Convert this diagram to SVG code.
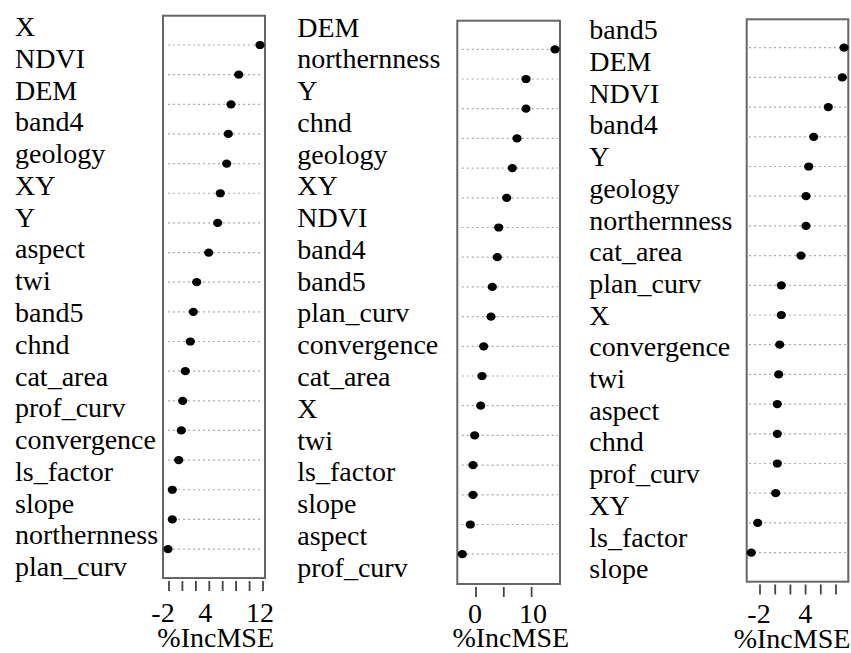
<svg xmlns="http://www.w3.org/2000/svg" width="851" height="653" viewBox="0 0 851 653">
<style>
text{font-family:"Liberation Serif","Times New Roman",serif;font-size:28px;fill:#000}
.ax{text-anchor:middle}
.box{fill:none;stroke:#666;stroke-width:2}
.grid{stroke:#aaa;stroke-width:1.2;stroke-dasharray:2 3}
.tick{stroke:#444;stroke-width:1.8}
.dot{fill:#000}
</style>
<rect width="851" height="653" fill="#fff"/>
<g id="panel1">
<g id="labels1">
<text x="15" y="36">X</text>
<text x="15" y="67.8">NDVI</text>
<text x="15" y="99.5">DEM</text>
<text x="15" y="131.3">band4</text>
<text x="15" y="163.1">geology</text>
<text x="15" y="194.9">XY</text>
<text x="15" y="226.6">Y</text>
<text x="15" y="258.4">aspect</text>
<text x="15" y="290.2">twi</text>
<text x="15" y="321.9">band5</text>
<text x="15" y="353.7">chnd</text>
<text x="15" y="385.5">cat_area</text>
<text x="15" y="417.2">prof_curv</text>
<text x="15" y="449">convergence</text>
<text x="15" y="480.8">ls_factor</text>
<text x="15" y="512.6">slope</text>
<text x="15" y="544.3">northernness</text>
<text x="15" y="576.1">plan_curv</text>
</g>
<g id="grid1">
<line class="grid" x1="168" x2="263" y1="45" y2="45"/>
<line class="grid" x1="168" x2="263" y1="74.65" y2="74.65"/>
<line class="grid" x1="168" x2="263" y1="104.3" y2="104.3"/>
<line class="grid" x1="168" x2="263" y1="133.95" y2="133.95"/>
<line class="grid" x1="168" x2="263" y1="163.6" y2="163.6"/>
<line class="grid" x1="168" x2="263" y1="193.25" y2="193.25"/>
<line class="grid" x1="168" x2="263" y1="222.9" y2="222.9"/>
<line class="grid" x1="168" x2="263" y1="252.55" y2="252.55"/>
<line class="grid" x1="168" x2="263" y1="282.2" y2="282.2"/>
<line class="grid" x1="168" x2="263" y1="311.85" y2="311.85"/>
<line class="grid" x1="168" x2="263" y1="341.5" y2="341.5"/>
<line class="grid" x1="168" x2="263" y1="371.15" y2="371.15"/>
<line class="grid" x1="168" x2="263" y1="400.8" y2="400.8"/>
<line class="grid" x1="168" x2="263" y1="430.45" y2="430.45"/>
<line class="grid" x1="168" x2="263" y1="460.1" y2="460.1"/>
<line class="grid" x1="168" x2="263" y1="489.75" y2="489.75"/>
<line class="grid" x1="168" x2="263" y1="519.4" y2="519.4"/>
<line class="grid" x1="168" x2="263" y1="549.05" y2="549.05"/>
</g>
<rect class="box" x="163" y="15.7" width="102" height="562.3"/>
<g id="dots1">
<ellipse class="dot" cx="260" cy="45" rx="4.6" ry="4.1"/>
<ellipse class="dot" cx="238.7" cy="74.65" rx="4.6" ry="4.1"/>
<ellipse class="dot" cx="231" cy="104.3" rx="4.6" ry="4.1"/>
<ellipse class="dot" cx="228.3" cy="133.95" rx="4.6" ry="4.1"/>
<ellipse class="dot" cx="226.7" cy="163.6" rx="4.6" ry="4.1"/>
<ellipse class="dot" cx="220.3" cy="193.25" rx="4.6" ry="4.1"/>
<ellipse class="dot" cx="217.7" cy="222.9" rx="4.6" ry="4.1"/>
<ellipse class="dot" cx="208.7" cy="252.55" rx="4.6" ry="4.1"/>
<ellipse class="dot" cx="196.7" cy="282.2" rx="4.6" ry="4.1"/>
<ellipse class="dot" cx="193.3" cy="311.85" rx="4.6" ry="4.1"/>
<ellipse class="dot" cx="190.3" cy="341.5" rx="4.6" ry="4.1"/>
<ellipse class="dot" cx="185.3" cy="371.15" rx="4.6" ry="4.1"/>
<ellipse class="dot" cx="182.7" cy="400.8" rx="4.6" ry="4.1"/>
<ellipse class="dot" cx="181.3" cy="430.45" rx="4.6" ry="4.1"/>
<ellipse class="dot" cx="178.7" cy="460.1" rx="4.6" ry="4.1"/>
<ellipse class="dot" cx="172.3" cy="489.75" rx="4.6" ry="4.1"/>
<ellipse class="dot" cx="172.3" cy="519.4" rx="4.6" ry="4.1"/>
<ellipse class="dot" cx="168" cy="549.05" rx="4.6" ry="4.1"/>
</g>
<g id="axis1">
<line class="tick" x1="169" x2="169" y1="581" y2="591"/>
<line class="tick" x1="182.4" x2="182.4" y1="581" y2="591"/>
<line class="tick" x1="195.9" x2="195.9" y1="581" y2="591"/>
<line class="tick" x1="209.3" x2="209.3" y1="581" y2="591"/>
<line class="tick" x1="222.7" x2="222.7" y1="581" y2="591"/>
<line class="tick" x1="236.1" x2="236.1" y1="581" y2="591"/>
<line class="tick" x1="249.6" x2="249.6" y1="581" y2="591"/>
<line class="tick" x1="263" x2="263" y1="581" y2="591"/>
<text class="ax" x="163" y="621.5">-2</text>
<text class="ax" x="205.3" y="621.5">4</text>
<text class="ax" x="260" y="621.5">12</text>
<text class="ax" x="215.7" y="647">%IncMSE</text>
</g>
</g>
<g id="panel2">
<g id="labels2">
<text x="297.3" y="36.5">DEM</text>
<text x="297.3" y="68.3">northernness</text>
<text x="297.3" y="100">Y</text>
<text x="297.3" y="131.8">chnd</text>
<text x="297.3" y="163.6">geology</text>
<text x="297.3" y="195.4">XY</text>
<text x="297.3" y="227.1">NDVI</text>
<text x="297.3" y="258.9">band4</text>
<text x="297.3" y="290.7">band5</text>
<text x="297.3" y="322.4">plan_curv</text>
<text x="297.3" y="354.2">convergence</text>
<text x="297.3" y="386">cat_area</text>
<text x="297.3" y="417.7">X</text>
<text x="297.3" y="449.5">twi</text>
<text x="297.3" y="481.3">ls_factor</text>
<text x="297.3" y="513.1">slope</text>
<text x="297.3" y="544.8">aspect</text>
<text x="297.3" y="576.6">prof_curv</text>
</g>
<g id="grid2">
<line class="grid" x1="461.7" x2="558" y1="49.3" y2="49.3"/>
<line class="grid" x1="461.7" x2="558" y1="79" y2="79"/>
<line class="grid" x1="461.7" x2="558" y1="108.7" y2="108.7"/>
<line class="grid" x1="461.7" x2="558" y1="138.4" y2="138.4"/>
<line class="grid" x1="461.7" x2="558" y1="168.1" y2="168.1"/>
<line class="grid" x1="461.7" x2="558" y1="197.8" y2="197.8"/>
<line class="grid" x1="461.7" x2="558" y1="227.5" y2="227.5"/>
<line class="grid" x1="461.7" x2="558" y1="257.2" y2="257.2"/>
<line class="grid" x1="461.7" x2="558" y1="286.9" y2="286.9"/>
<line class="grid" x1="461.7" x2="558" y1="316.6" y2="316.6"/>
<line class="grid" x1="461.7" x2="558" y1="346.3" y2="346.3"/>
<line class="grid" x1="461.7" x2="558" y1="376" y2="376"/>
<line class="grid" x1="461.7" x2="558" y1="405.7" y2="405.7"/>
<line class="grid" x1="461.7" x2="558" y1="435.4" y2="435.4"/>
<line class="grid" x1="461.7" x2="558" y1="465.1" y2="465.1"/>
<line class="grid" x1="461.7" x2="558" y1="494.8" y2="494.8"/>
<line class="grid" x1="461.7" x2="558" y1="524.5" y2="524.5"/>
<line class="grid" x1="461.7" x2="558" y1="554.2" y2="554.2"/>
</g>
<rect class="box" x="457.3" y="20.7" width="102.7" height="563.3"/>
<g id="dots2">
<ellipse class="dot" cx="555" cy="49.3" rx="4.6" ry="4.1"/>
<ellipse class="dot" cx="526" cy="79" rx="4.6" ry="4.1"/>
<ellipse class="dot" cx="526" cy="108.7" rx="4.6" ry="4.1"/>
<ellipse class="dot" cx="517" cy="138.4" rx="4.6" ry="4.1"/>
<ellipse class="dot" cx="512.3" cy="168.1" rx="4.6" ry="4.1"/>
<ellipse class="dot" cx="506.7" cy="197.8" rx="4.6" ry="4.1"/>
<ellipse class="dot" cx="498.7" cy="227.5" rx="4.6" ry="4.1"/>
<ellipse class="dot" cx="497.3" cy="257.2" rx="4.6" ry="4.1"/>
<ellipse class="dot" cx="492.3" cy="286.9" rx="4.6" ry="4.1"/>
<ellipse class="dot" cx="491" cy="316.6" rx="4.6" ry="4.1"/>
<ellipse class="dot" cx="483.7" cy="346.3" rx="4.6" ry="4.1"/>
<ellipse class="dot" cx="482" cy="376" rx="4.6" ry="4.1"/>
<ellipse class="dot" cx="480.7" cy="405.7" rx="4.6" ry="4.1"/>
<ellipse class="dot" cx="474.7" cy="435.4" rx="4.6" ry="4.1"/>
<ellipse class="dot" cx="473" cy="465.1" rx="4.6" ry="4.1"/>
<ellipse class="dot" cx="473" cy="494.8" rx="4.6" ry="4.1"/>
<ellipse class="dot" cx="470.3" cy="524.5" rx="4.6" ry="4.1"/>
<ellipse class="dot" cx="462.3" cy="554.2" rx="4.6" ry="4.1"/>
</g>
<g id="axis2">
<line class="tick" x1="476" x2="476" y1="587" y2="597"/>
<line class="tick" x1="503.8" x2="503.8" y1="587" y2="597"/>
<line class="tick" x1="531.6" x2="531.6" y1="587" y2="597"/>
<text class="ax" x="475" y="622.5">0</text>
<text class="ax" x="533" y="622.5">10</text>
<text class="ax" x="510.8" y="646.5">%IncMSE</text>
</g>
</g>
<g id="panel3">
<g id="labels3">
<text x="589.3" y="39.3">band5</text>
<text x="589.3" y="71">DEM</text>
<text x="589.3" y="102.7">NDVI</text>
<text x="589.3" y="134.4">band4</text>
<text x="589.3" y="166.1">Y</text>
<text x="589.3" y="197.8">geology</text>
<text x="589.3" y="229.5">northernness</text>
<text x="589.3" y="261.2">cat_area</text>
<text x="589.3" y="292.9">plan_curv</text>
<text x="589.3" y="324.6">X</text>
<text x="589.3" y="356.3">convergence</text>
<text x="589.3" y="388">twi</text>
<text x="589.3" y="419.7">aspect</text>
<text x="589.3" y="451.4">chnd</text>
<text x="589.3" y="483.1">prof_curv</text>
<text x="589.3" y="514.8">XY</text>
<text x="589.3" y="546.5">ls_factor</text>
<text x="589.3" y="578.2">slope</text>
</g>
<g id="grid3">
<line class="grid" x1="749" x2="846" y1="47.7" y2="47.7"/>
<line class="grid" x1="749" x2="846" y1="77.4" y2="77.4"/>
<line class="grid" x1="749" x2="846" y1="107.1" y2="107.1"/>
<line class="grid" x1="749" x2="846" y1="136.8" y2="136.8"/>
<line class="grid" x1="749" x2="846" y1="166.5" y2="166.5"/>
<line class="grid" x1="749" x2="846" y1="196.2" y2="196.2"/>
<line class="grid" x1="749" x2="846" y1="225.9" y2="225.9"/>
<line class="grid" x1="749" x2="846" y1="255.6" y2="255.6"/>
<line class="grid" x1="749" x2="846" y1="285.3" y2="285.3"/>
<line class="grid" x1="749" x2="846" y1="315" y2="315"/>
<line class="grid" x1="749" x2="846" y1="344.7" y2="344.7"/>
<line class="grid" x1="749" x2="846" y1="374.4" y2="374.4"/>
<line class="grid" x1="749" x2="846" y1="404.1" y2="404.1"/>
<line class="grid" x1="749" x2="846" y1="433.8" y2="433.8"/>
<line class="grid" x1="749" x2="846" y1="463.5" y2="463.5"/>
<line class="grid" x1="749" x2="846" y1="493.2" y2="493.2"/>
<line class="grid" x1="749" x2="846" y1="522.9" y2="522.9"/>
<line class="grid" x1="749" x2="846" y1="552.6" y2="552.6"/>
</g>
<rect class="box" x="746.7" y="19.3" width="101.6" height="562.4"/>
<g id="dots3">
<ellipse class="dot" cx="844" cy="47.7" rx="4.6" ry="4.1"/>
<ellipse class="dot" cx="842.3" cy="77.4" rx="4.6" ry="4.1"/>
<ellipse class="dot" cx="828.3" cy="107.1" rx="4.6" ry="4.1"/>
<ellipse class="dot" cx="813.7" cy="136.8" rx="4.6" ry="4.1"/>
<ellipse class="dot" cx="808.7" cy="166.5" rx="4.6" ry="4.1"/>
<ellipse class="dot" cx="806" cy="196.2" rx="4.6" ry="4.1"/>
<ellipse class="dot" cx="806" cy="225.9" rx="4.6" ry="4.1"/>
<ellipse class="dot" cx="801" cy="255.6" rx="4.6" ry="4.1"/>
<ellipse class="dot" cx="781.3" cy="285.3" rx="4.6" ry="4.1"/>
<ellipse class="dot" cx="781.3" cy="315" rx="4.6" ry="4.1"/>
<ellipse class="dot" cx="779.7" cy="344.7" rx="4.6" ry="4.1"/>
<ellipse class="dot" cx="778.7" cy="374.4" rx="4.6" ry="4.1"/>
<ellipse class="dot" cx="777.3" cy="404.1" rx="4.6" ry="4.1"/>
<ellipse class="dot" cx="777.3" cy="433.8" rx="4.6" ry="4.1"/>
<ellipse class="dot" cx="777.3" cy="463.5" rx="4.6" ry="4.1"/>
<ellipse class="dot" cx="775.7" cy="493.2" rx="4.6" ry="4.1"/>
<ellipse class="dot" cx="757.7" cy="522.9" rx="4.6" ry="4.1"/>
<ellipse class="dot" cx="751.3" cy="552.6" rx="4.6" ry="4.1"/>
</g>
<g id="axis3">
<line class="tick" x1="760" x2="760" y1="584.5" y2="594.5"/>
<line class="tick" x1="775.2" x2="775.2" y1="584.5" y2="594.5"/>
<line class="tick" x1="790.4" x2="790.4" y1="584.5" y2="594.5"/>
<line class="tick" x1="805.6" x2="805.6" y1="584.5" y2="594.5"/>
<line class="tick" x1="820.8" x2="820.8" y1="584.5" y2="594.5"/>
<line class="tick" x1="836" x2="836" y1="584.5" y2="594.5"/>
<text class="ax" x="759" y="622.5">-2</text>
<text class="ax" x="805.3" y="622.5">4</text>
<text class="ax" x="792" y="648">%IncMSE</text>
</g>
</g>
</svg>
